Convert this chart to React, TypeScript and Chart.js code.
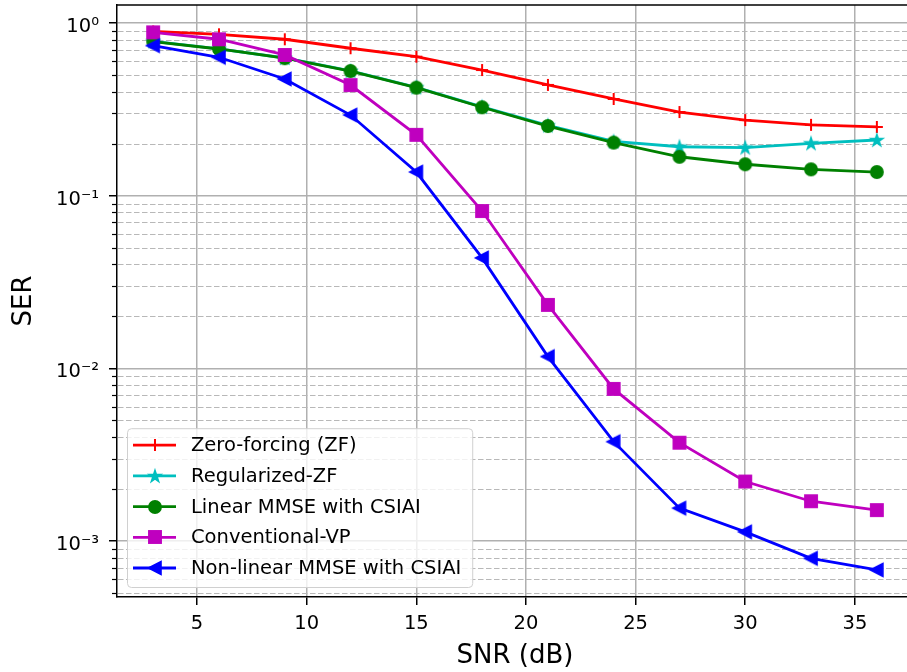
import React, { useEffect, useRef } from 'react';
import { Chart, registerables } from 'chart.js';

Chart.register(...registerables);

// ---------------- data ----------------
const snrDb = [3, 6, 9, 12, 15, 18, 21, 24, 27, 30, 33, 36];
const zeroForcing = [0.893, 0.86, 0.805, 0.714, 0.638, 0.534, 0.438, 0.363, 0.305, 0.274, 0.257, 0.25];
const regularizedZF = [0.782, 0.709, 0.627, 0.528, 0.424, 0.327, 0.255, 0.206, 0.192, 0.19, 0.201, 0.21];
const linearMMSE = [0.78, 0.707, 0.625, 0.527, 0.422, 0.325, 0.253, 0.203, 0.168, 0.152, 0.142, 0.137];
const conventionalVP = [0.883, 0.805, 0.653, 0.437, 0.225, 0.0815, 0.0233, 0.0076, 0.00371, 0.00221, 0.0017, 0.00151];
const nonlinearMMSE = [0.739, 0.633, 0.474, 0.293, 0.137, 0.0436, 0.0117, 0.00376, 0.00155, 0.00113, 0.000794, 0.00068];

const seriesLabels = [
  'Zero-forcing (ZF)',
  'Regularized-ZF',
  'Linear MMSE with CSIAI',
  'Conventional-VP',
  'Non-linear MMSE with CSIAI',
];
const seriesColors = ['#ff0000', '#00bfbf', '#008000', '#bf00bf', '#0000ff'];

const xTickValues = [5, 10, 15, 20, 25, 30, 35];
const yTickValues = [1e-3, 1e-2, 1e-1, 1];
const yTickLabels = ['10⁻³', '10⁻²', '10⁻¹', '10⁰'];
const yMinorDecades = [1e-4, 1e-3, 1e-2, 1e-1, 1];
const yMinorMultipliers = [2, 3, 4, 5, 6, 7, 8, 9];

const X_MIN = 1.35;
const X_MAX = 37.65;
const Y_MIN = 4.74e-4;
const Y_MAX = 1.271;

const FONT = 'DejaVu Sans';

// ---------------- markers ----------------
function makeCanvas(size: number) {
  const c = document.createElement('canvas');
  c.width = size;
  c.height = size;
  return c;
}

function plusMarker(color: string) {
  const c = makeCanvas(18);
  const g = c.getContext('2d')!;
  g.strokeStyle = color;
  g.lineWidth = 2;
  g.beginPath();
  g.moveTo(9, 3);
  g.lineTo(9, 15);
  g.moveTo(3, 9);
  g.lineTo(15, 9);
  g.stroke();
  return c;
}

function starMarker(color: string) {
  const c = makeCanvas(18);
  const g = c.getContext('2d')!;
  const R = 6.4;
  const r = R * 0.382;
  g.beginPath();
  for (let i = 0; i < 10; i++) {
    const a = -Math.PI / 2 + (i * Math.PI) / 5;
    const rr = i % 2 === 0 ? R : r;
    const px = 9 + rr * Math.cos(a);
    const py = 9.5 + rr * Math.sin(a);
    if (i === 0) g.moveTo(px, py);
    else g.lineTo(px, py);
  }
  g.closePath();
  g.fillStyle = color;
  g.fill();
  g.strokeStyle = color;
  g.lineWidth = 1.4;
  g.lineJoin = 'miter';
  g.stroke();
  return c;
}

function circleMarker(color: string) {
  const c = makeCanvas(18);
  const g = c.getContext('2d')!;
  g.beginPath();
  g.arc(9, 9, 6, 0, Math.PI * 2);
  g.fillStyle = color;
  g.fill();
  g.strokeStyle = color;
  g.lineWidth = 1.9;
  g.stroke();
  return c;
}

function squareMarker(color: string) {
  const c = makeCanvas(18);
  const g = c.getContext('2d')!;
  g.fillStyle = color;
  g.fillRect(3, 3, 12, 12);
  g.strokeStyle = color;
  g.lineWidth = 1.9;
  g.strokeRect(3, 3, 12, 12);
  return c;
}

function leftTriangleMarker(color: string) {
  const c = makeCanvas(18);
  const g = c.getContext('2d')!;
  g.beginPath();
  g.moveTo(2.5, 9);
  g.lineTo(15, 2.5);
  g.lineTo(15, 15.5);
  g.closePath();
  g.fillStyle = color;
  g.fill();
  g.strokeStyle = color;
  g.lineWidth = 1.6;
  g.lineJoin = 'miter';
  g.stroke();
  return c;
}

// ---------------- plugins ----------------
const axesDecorPlugin = {
  id: 'axesDecor',
  beforeDatasetsDraw(chart: any) {
    const { ctx, chartArea } = chart;
    const ys = chart.scales.y;
    ctx.save();
    for (const d of yMinorDecades) {
      for (const m of yMinorMultipliers) {
        const v = d * m;
        if (v < ys.min || v > ys.max) continue;
        const py = Math.round(ys.getPixelForValue(v)) + 0.5;
        ctx.setLineDash([5.5, 2.5]);
        ctx.strokeStyle = '#b8b8b8';
        ctx.lineWidth = 1.2;
        ctx.beginPath();
        ctx.moveTo(chartArea.left + 1, py);
        ctx.lineTo(chartArea.right, py);
        ctx.stroke();
        ctx.setLineDash([]);
        ctx.strokeStyle = '#000';
        ctx.lineWidth = 1.2;
        ctx.beginPath();
        ctx.moveTo(chartArea.left - 5, py);
        ctx.lineTo(chartArea.left, py);
        ctx.stroke();
      }
    }
    ctx.restore();
  },
  afterDatasetsDraw(chart: any) {
    const { ctx, chartArea } = chart;
    ctx.save();
    ctx.strokeStyle = '#000';
    ctx.lineWidth = 1.5;
    ctx.beginPath();
    ctx.moveTo(chartArea.left - 0.75, chartArea.top);
    ctx.lineTo(chartArea.right, chartArea.top);
    ctx.stroke();
    ctx.restore();
  },
};

const legendPlugin = {
  id: 'mplLegend',
  afterDatasetsDraw(chart: any) {
    const { ctx, chartArea } = chart;
    const datasets = chart.data.datasets;
    ctx.save();
    ctx.font = `19.5px "${FONT}"`;
    let maxW = 0;
    datasets.forEach((d: any) => {
      maxW = Math.max(maxW, ctx.measureText(d.label).width);
    });
    const pitch = 30.7;
    const left = chartArea.left + 10;
    const bottom = chartArea.bottom - 10;
    const height = 17 + pitch * (datasets.length - 1) + 19;
    const top = bottom - height;
    const width = 64 + maxW + 11;
    ctx.beginPath();
    ctx.roundRect(left + 0.5, top + 0.5, width, height, 4);
    ctx.fillStyle = 'rgba(255,255,255,0.8)';
    ctx.fill();
    ctx.strokeStyle = '#d0d0d0';
    ctx.lineWidth = 1;
    ctx.stroke();
    datasets.forEach((d: any, i: number) => {
      const y = top + 17 + i * pitch;
      ctx.strokeStyle = d.borderColor;
      ctx.lineWidth = d.borderWidth;
      ctx.beginPath();
      ctx.moveTo(left + 6, y);
      ctx.lineTo(left + 49, y);
      ctx.stroke();
      const img = d.pointStyle as HTMLCanvasElement;
      ctx.drawImage(img, Math.round(left + 27.5 - img.width / 2), Math.round(y - img.height / 2));
      ctx.fillStyle = '#000';
      ctx.textAlign = 'left';
      ctx.textBaseline = 'middle';
      ctx.fillText(d.label, left + 64, y + 1);
    });
    ctx.restore();
  },
};

function zeroPadding(s: any) {
  s.paddingTop = 0;
  s.paddingBottom = 0;
  s.paddingLeft = 0;
  s.paddingRight = 0;
}

// ---------------- component ----------------
export default function App() {
  const canvasRef = useRef<HTMLCanvasElement>(null);

  useEffect(() => {
    if (!canvasRef.current) return;
    Chart.defaults.font.family = FONT;
    Chart.defaults.color = '#000';

    const markers = [
      plusMarker(seriesColors[0]),
      starMarker(seriesColors[1]),
      circleMarker(seriesColors[2]),
      squareMarker(seriesColors[3]),
      leftTriangleMarker(seriesColors[4]),
    ];
    const seriesValues = [zeroForcing, regularizedZF, linearMMSE, conventionalVP, nonlinearMMSE];

    const datasets = seriesValues.map((vals, i) => ({
      label: seriesLabels[i],
      data: snrDb.map((x, j) => ({ x, y: vals[j] })),
      borderColor: seriesColors[i],
      backgroundColor: seriesColors[i],
      borderWidth: 2.8,
      pointStyle: markers[i] as any,
      pointRadius: 6,
      pointHoverRadius: 6,
      tension: 0,
      fill: false,
      order: seriesValues.length - i,
    }));

    const chart = new Chart(canvasRef.current, {
      type: 'line',
      data: { datasets },
      options: {
        responsive: false,
        animation: false,
        devicePixelRatio: 1,
        events: [],
        layout: { autoPadding: false, padding: { top: 5, right: 0, bottom: 0, left: 0 } },
        plugins: {
          legend: { display: false },
          tooltip: { enabled: false },
        },
        scales: {
          x: {
            type: 'linear',
            min: X_MIN,
            max: X_MAX,
            bounds: 'data',
            afterBuildTicks: (s: any) => {
              s.ticks = xTickValues.map((v) => ({ value: v }));
            },
            afterFit: (s: any) => {
              s.height = 75;
              zeroPadding(s);
            },
            ticks: {
              autoSkip: false,
              maxRotation: 0,
              padding: 7,
              color: '#000',
              font: { family: FONT, size: 19.5 },
              callback: (v: any) => String(v),
            },
            grid: {
              color: '#b0b0b0',
              lineWidth: 1.5,
              drawTicks: true,
              tickLength: 8,
              tickColor: '#000',
              tickWidth: 1.5,
            },
            border: { display: true, color: '#000', width: 1.5 },
            title: {
              display: true,
              text: 'SNR (dB)',
              color: '#000',
              font: { family: FONT, size: 26 },
              padding: { top: 0, bottom: 0 },
            },
          },
          y: {
            type: 'logarithmic',
            min: Y_MIN,
            max: Y_MAX,
            bounds: 'data',
            afterBuildTicks: (s: any) => {
              s.ticks = yTickValues.map((v) => ({ value: v, major: true }));
            },
            afterFit: (s: any) => {
              s.width = 117;
              zeroPadding(s);
            },
            ticks: {
              autoSkip: false,
              padding: 10,
              labelOffset: 4,
              color: '#000',
              font: { family: FONT, size: 19.5 },
              callback: (v: any) => {
                const idx = yTickValues.findIndex((t) => Math.abs(Math.log10(t) - Math.log10(v)) < 1e-6);
                return idx >= 0 ? yTickLabels[idx] : '';
              },
            },
            grid: {
              color: '#b0b0b0',
              lineWidth: 1.5,
              drawTicks: true,
              tickLength: 8,
              tickColor: '#000',
              tickWidth: 1.5,
            },
            border: { display: true, color: '#000', width: 1.5 },
            title: {
              display: true,
              text: 'SER',
              color: '#000',
              font: { family: FONT, size: 26 },
              padding: { top: 9, bottom: 0 },
            },
          },
        },
      },
      plugins: [axesDecorPlugin, legendPlugin],
    } as any);

    return () => chart.destroy();
  }, []);

  return (
    <div
      style={{
        position: 'absolute',
        left: 0,
        top: 0,
        width: 907,
        height: 672,
        overflow: 'hidden',
        background: '#fff',
      }}
    >
      <canvas ref={canvasRef} width={913} height={672} style={{ display: 'block', width: 913, height: 672 }} />
    </div>
  );
}
